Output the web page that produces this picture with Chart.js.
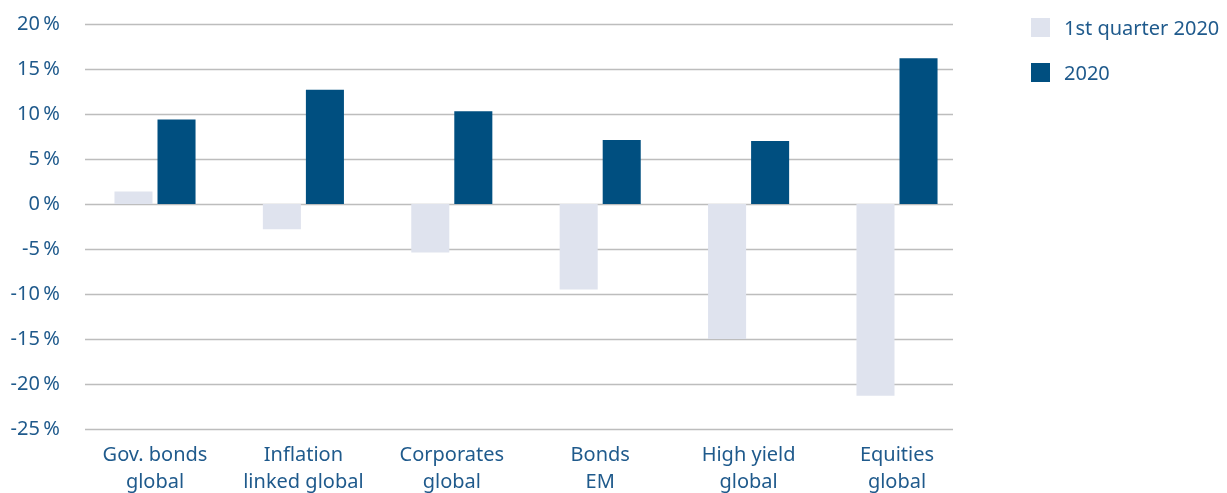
<!DOCTYPE html>
<html>
<head>
<meta charset="utf-8">
<script src="https://cdn.jsdelivr.net/npm/chart.js@4/dist/chart.umd.min.js"></script>
<style>
  html, body { margin: 0; padding: 0; background: #fff; }
  .wrap { position: relative; width: 1227px; height: 493px; overflow: hidden; }
  .legend { position: absolute; left: 1031px; top: 14px; font-family: "Noto Sans", sans-serif; font-size: 20px; color: #1f5a8c; }
  .legend-item { display: flex; align-items: center; height: 27px; margin-bottom: 18px; }
  .swatch { width: 19px; height: 19px; margin-right: 14px; }
</style>
</head>
<body>
<div class="wrap">
  <canvas id="chart" width="1227" height="493"></canvas>
  <div class="legend">
    <div class="legend-item"><span class="swatch" style="background:#dfe3ee"></span>1st quarter 2020</div>
    <div class="legend-item"><span class="swatch" style="background:#004f80"></span>2020</div>
  </div>
</div>
<script>
const categories = [
  ['Gov. bonds', 'global'],
  ['Inflation', 'linked global'],
  ['Corporates', 'global'],
  ['Bonds', 'EM'],
  ['High yield', 'global'],
  ['Equities', 'global']
]
const q1Values = [1.4, -2.8, -5.4, -9.5, -15.0, -21.3]
const yearValues = [9.4, 12.7, 10.3, 7.1, 7.0, 16.2]
const seriesNames = ['1st quarter 2020', '2020']

const textColor = '#1f5a8c'
const yFont = { family: '"Noto Sans", sans-serif', size: 20 }
const xFont = { family: '"Noto Sans", sans-serif', size: 20, lineHeight: 1.35 }

// horizontal grid lines, shorter than the category axis
const gridPlugin = {
  id: 'shortGrid',
  beforeDatasetsDraw(chart) {
    const ctx = chart.ctx
    const y = chart.scales.y
    ctx.save()
    ctx.strokeStyle = '#bdbdbd'
    ctx.lineWidth = 1.5
    y.ticks.forEach(t => {
      const py = Math.round(y.getPixelForValue(t.value)) + 0.5
      ctx.beginPath()
      ctx.moveTo(85, py)
      ctx.lineTo(953, py)
      ctx.stroke()
    })
    ctx.restore()
  }
}

new Chart(document.getElementById('chart'), {
  type: 'bar',
  data: {
    labels: categories,
    datasets: [
      { label: seriesNames[0], data: q1Values, backgroundColor: '#dfe3ee' },
      { label: seriesNames[1], data: yearValues, backgroundColor: '#004f80' }
    ]
  },
  options: {
    responsive: false,
    animation: false,
    devicePixelRatio: 1,
    categoryPercentage: 0.58,
    barPercentage: 0.884,
    layout: { padding: { top: 24, right: 255.8, bottom: 0, left: 0 } },
    plugins: { legend: { display: false }, tooltip: { enabled: false } },
    scales: {
      y: {
        min: -25, max: 20,
        ticks: {
          stepSize: 5, color: textColor, font: yFont, padding: 21,
          callback: v => v + '\u2009%'
        },
        grid: { display: false, drawTicks: false },
        border: { display: false },
        afterFit(scale) {
          scale.width = 80.8
          scale.paddingTop = 0
          scale.paddingBottom = 0
        }
      },
      x: {
        ticks: { color: textColor, font: xFont, padding: 13, maxRotation: 0, autoSkip: false },
        grid: { display: false, drawTicks: false },
        border: { display: false },
        afterFit(scale) {
          scale.height = 64
          scale.paddingLeft = 0
          scale.paddingRight = 0
        }
      }
    }
  },
  plugins: [gridPlugin]
})
</script>
</body>
</html>
